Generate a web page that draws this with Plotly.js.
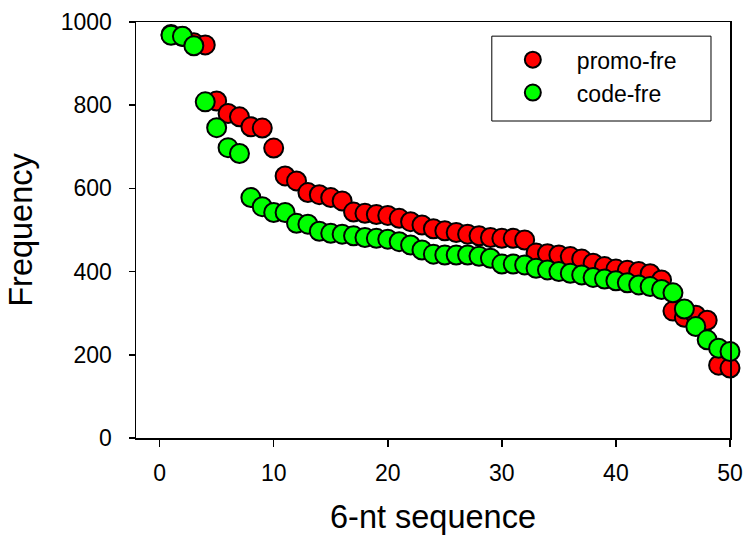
<!DOCTYPE html>
<html>
<head>
<meta charset="utf-8">
<script src="https://cdn.plot.ly/plotly-3.0.1.min.js"></script>
<style>html,body{margin:0;padding:0;background:#fff;}#chart{width:744px;height:535px;}</style>
</head>
<body>
<div id="chart"></div>
<script>
var seqIndex = [];
for (var i = 1; i <= 50; i++) seqIndex.push(i);

var promoFre = [970, 965, 950, 945, 810, 780, 772, 748, 745, 697,
                630, 618, 590, 585, 578, 570, 543, 540, 537, 535,
                528, 520, 512, 503, 498, 494, 490, 486, 482, 480,
                480, 476, 445, 443, 440, 436, 430, 420, 412, 406,
                403, 400, 395, 380, 305, 290, 295, 283, 175, 168];

var codeFre = [968, 966, 943, 808, 746, 698, 684, 578, 556, 542,
               542, 516, 514, 497, 492, 490, 486, 482, 480, 478,
               472, 464, 452, 442, 440, 440, 440, 437, 432, 418,
               418, 416, 408, 404, 400, 396, 392, 386, 382, 378,
               373, 368, 364, 357, 349, 310, 268, 236, 216, 208];

var seriesNames = ['promo-fre', 'code-fre'];
var xTickVals = [0, 10, 20, 30, 40, 50];
var yTickVals = [0, 200, 400, 600, 800, 1000];

var font = 'Liberation Sans, Arial, sans-serif';

var traces = [
  {
    x: seqIndex, y: promoFre, name: seriesNames[0], type: 'scatter', mode: 'markers',
    cliponaxis: false,
    marker: {size: 19, color: '#ff0000', line: {color: '#000000', width: 2}}
  },
  {
    x: seqIndex, y: codeFre, name: seriesNames[1], type: 'scatter', mode: 'markers',
    cliponaxis: false,
    marker: {size: 19, color: '#00ff00', line: {color: '#000000', width: 2}}
  }
];

var layout = {
  width: 744, height: 535,
  margin: {l: 136, r: 14, t: 22, b: 97},
  paper_bgcolor: '#ffffff', plot_bgcolor: '#ffffff',
  font: {family: font, color: '#000000', size: 23},
  showlegend: true,
  legend: {
    x: 0.594, y: 0.961, xanchor: 'left', yanchor: 'top',
    borderwidth: 0, bgcolor: 'rgba(0,0,0,0)',
    font: {family: font, size: 23, color: '#000000'},
    itemwidth: 78
  },
  shapes: [{
    type: 'rect', xref: 'paper', yref: 'paper',
    x0: 0.599, x1: 0.968, y0: 0.762, y1: 0.966,
    line: {color: '#000000', width: 1}, fillcolor: 'rgba(0,0,0,0)', layer: 'below'
  }],
  xaxis: {
    range: [-2.07, 50], tickvals: xTickVals, ticktext: xTickVals.map(String),
    ticks: 'outside', ticklen: 7, tickwidth: 1.5, tickcolor: '#000',
    showline: true, linecolor: '#000', linewidth: 1.5, mirror: true,
    showgrid: false, zeroline: false, ticklabelstandoff: 7,
    tickfont: {family: font, size: 23},
    title: {text: '6-nt sequence', font: {family: font, size: 32.5}, standoff: 33}
  },
  yaxis: {
    range: [0, 1000], tickvals: yTickVals, ticktext: yTickVals.map(String),
    ticks: 'outside', ticklen: 6, tickwidth: 1.5, tickcolor: '#000',
    showline: true, linecolor: '#000', linewidth: 1.5, mirror: true,
    showgrid: false, zeroline: false, ticklabelstandoff: 12,
    tickfont: {family: font, size: 23},
    title: {text: 'Frequency', font: {family: font, size: 32.5}, standoff: 18}
  }
};

Plotly.newPlot('chart', traces, layout, {displayModeBar: false, staticPlot: true});
</script>
</body>
</html>
